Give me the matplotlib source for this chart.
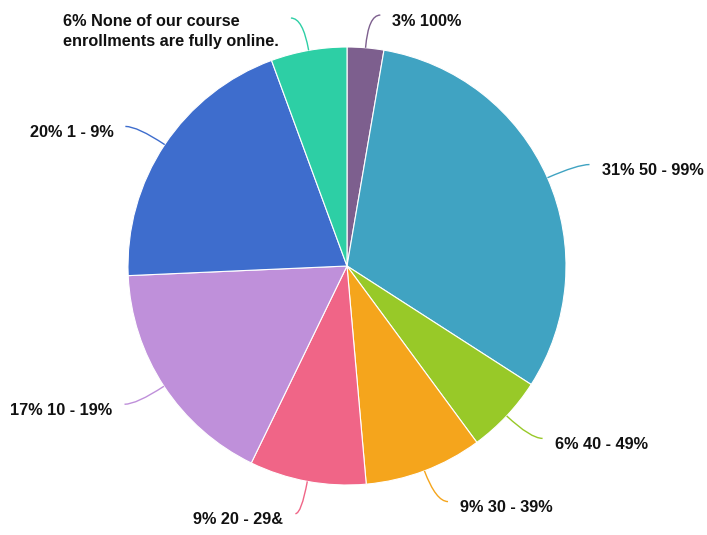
import numpy as np
import matplotlib
matplotlib.use("Agg")
import matplotlib.pyplot as plt
from matplotlib.path import Path
from matplotlib.patches import PathPatch

# ---- data (clockwise from 12 o'clock) ----
categories = ["100%", "50 - 99%", "40 - 49%", "30 - 39%", "20 - 29&", "10 - 19%", "1 - 9%",
              "None of our course\nenrollments are fully online."]
values = [2.7, 31.4, 5.8, 8.7, 8.6, 17.1, 20.1, 5.6]
colors = ["#7d5f8e", "#40a3c2", "#98c928", "#f5a51c", "#f06587", "#bf90da", "#3e6dcd", "#2dcfa5"]

W, H = 707, 535
fig = plt.figure(figsize=(W / 100, H / 100), dpi=100)
ax = fig.add_axes([0, 0, 1, 1])

cx, cy, R = 347, H - 266, 219
wedges, _ = ax.pie(values, colors=colors, startangle=90, counterclock=False,
                   center=(cx, cy), radius=R, frame=True,
                   wedgeprops=dict(edgecolor="white", linewidth=0.8))
ax.set_xlim(0, W)
ax.set_ylim(0, H)
ax.set_aspect("equal")
ax.axis("off")

font = dict(family=["Liberation Sans", "DejaVu Sans"], fontweight="bold", fontsize=11.7, color="#111111")

total = sum(values)
cum = 0.0
for v, lab, col in zip(values, categories, colors):
    mid = (cum + v / 2) / total * 2 * np.pi  # clockwise from top
    cum += v
    dx, dy = np.sin(mid), np.cos(mid)
    p0 = (cx + R * dx, cy + R * dy)
    p1 = (cx + 1.15 * R * dx, cy + 1.15 * R * dy)
    side = 1 if dx >= 0 else -1
    shift = 12 if abs(dx) > 0.3 or dy > 0 else 6
    p2 = (p1[0] + side * shift, p1[1])
    path = Path([p0, p1, p2], [Path.MOVETO, Path.CURVE3, Path.CURVE3])
    ax.add_patch(PathPatch(path, facecolor="none", edgecolor=col, linewidth=1.0))
    text = f"{round(v)}% {lab}"
    tx = p2[0] + side * 12
    if "\n" in lab:
        ax.text(tx, p2[1] + 4, text, ha="right", va="top", multialignment="left",
                linespacing=1.38, **font)
    else:
        ax.text(tx, p2[1] - 6, text, ha="left" if side > 0 else "right", va="center", **font)

fig.savefig("out.png", dpi=100)
